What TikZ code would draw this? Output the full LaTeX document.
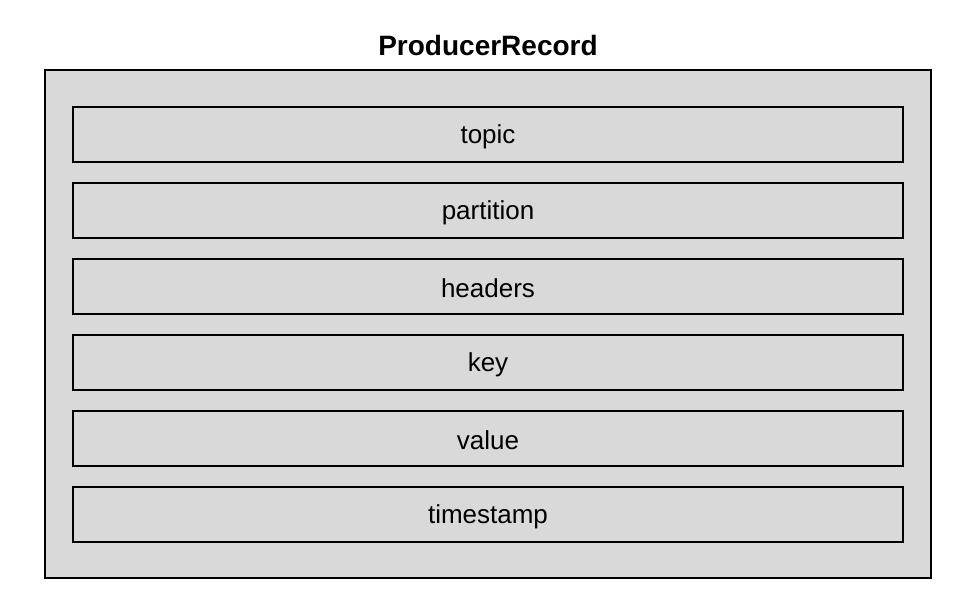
\documentclass[tikz,border=0pt]{standalone}
\usepackage{fontspec}
\setmainfont{Liberation Sans}
\definecolor{boxgray}{HTML}{D9D9D9}
\newcommand{\lowertext}[1]{\raisebox{-1.5pt}[\height][\depth]{#1}}
\begin{document}
\begin{tikzpicture}[x=0.75pt,y=-0.75pt,
  recbox/.style={draw=black,fill=boxgray,line width=1.5pt},
  field/.style={draw=black,fill=boxgray,line width=1.5pt,minimum width=830*0.75pt,minimum height=55*0.75pt,inner sep=0pt,font=\fontsize{19.5}{23}\selectfont},
  titletext/.style={font=\bfseries\fontsize{21}{25}\selectfont,inner sep=0pt}]
\useasboundingbox (0,0) rectangle (976,606);
\node[recbox,minimum width=886*0.75pt,minimum height=508*0.75pt,inner sep=0pt] (outer) at (488,324) {};
\node[titletext] (title) at (488,45) {ProducerRecord};
\node[field] (topic) at (488,134.5) {\lowertext{topic}};
\node[field] (partition) at (488,210.5) {\lowertext{partition}};
\node[field] (headers) at (488,286.5) {\lowertext{headers}};
\node[field] (key) at (488,362.5) {\lowertext{key}};
\node[field] (value) at (488,438.5) {\lowertext{value}};
\node[field] (timestamp) at (488,514.5) {\lowertext{timestamp}};
\end{tikzpicture}
\end{document}
